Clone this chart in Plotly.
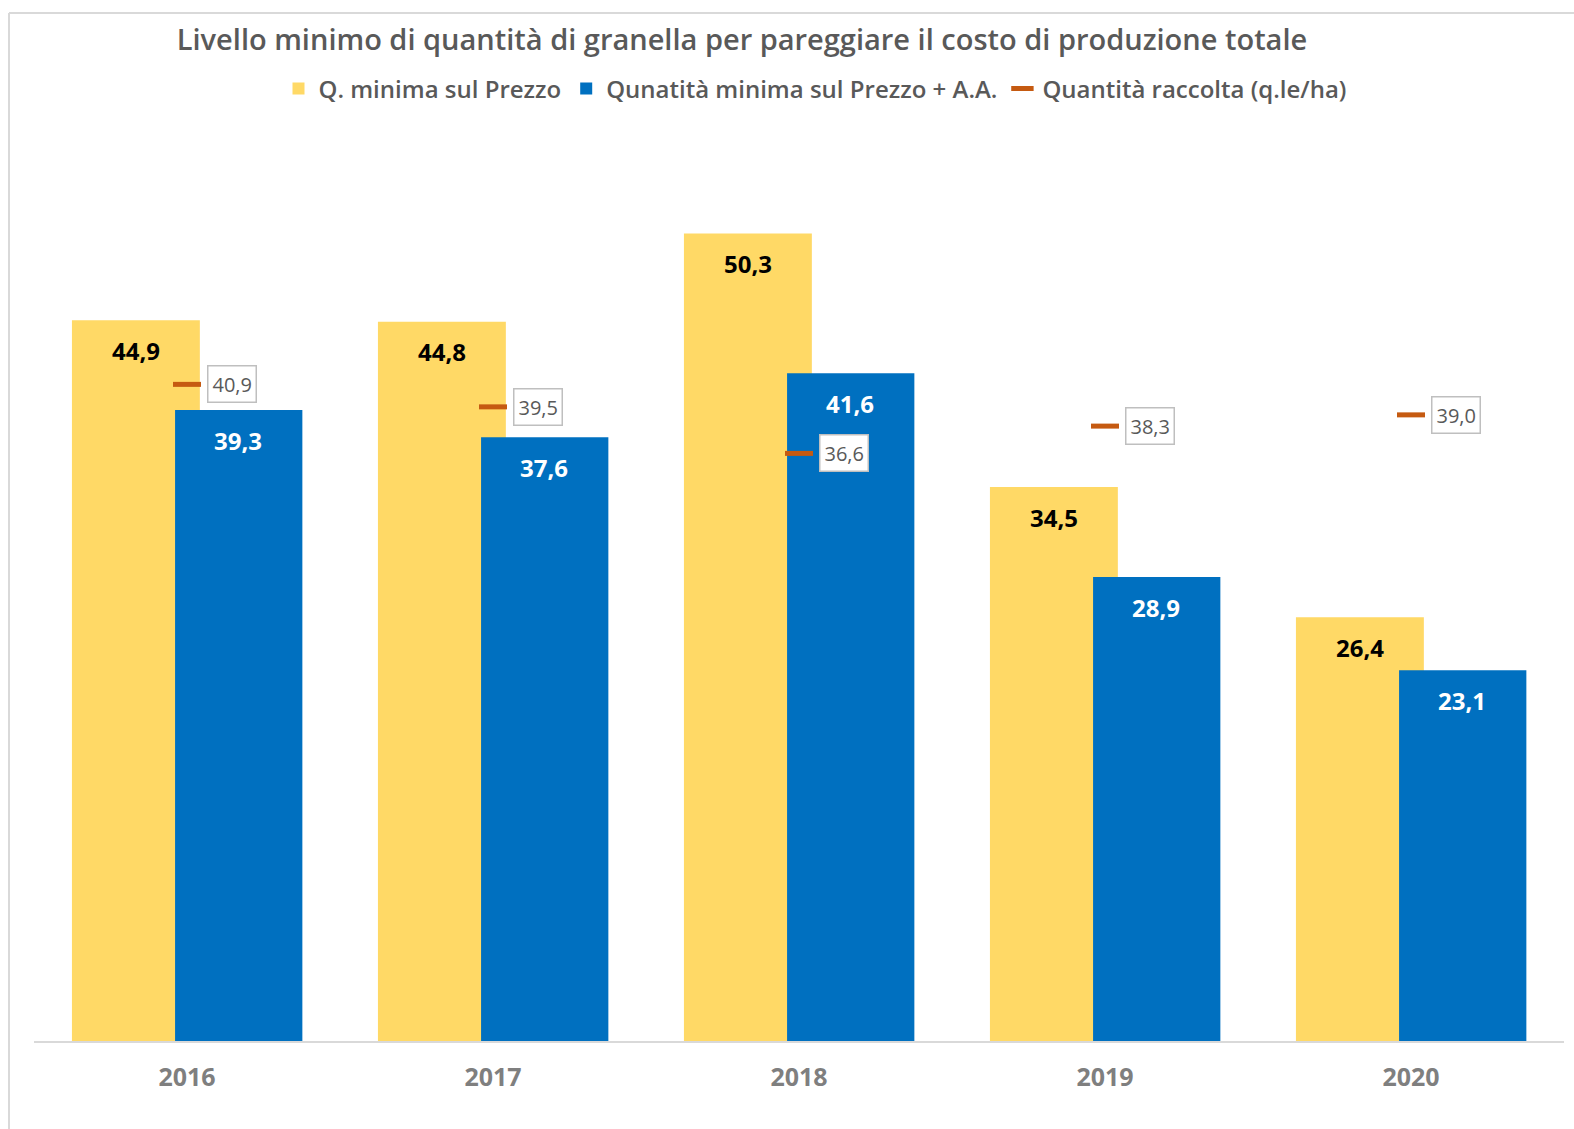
import plotly.graph_objects as go

years = ["2016", "2017", "2018", "2019", "2020"]
q_prezzo = [44.9, 44.8, 50.3, 34.5, 26.4]
q_prezzo_aa = [39.3, 37.6, 41.6, 28.9, 23.1]
q_raccolta = [40.9, 39.5, 36.6, 38.3, 39.0]

YELLOW = "#FFD966"
BLUE = "#0070C0"
ORANGE = "#C55A11"
GRAY = "#595959"
FONT = "Open Sans"

W, H = 1574, 1129
ML, MR, MT, MB = 34, 10, 158, 88
PW = W - ML - MR
PH = H - MT - MB

fig = go.Figure()
fig.add_trace(go.Bar(
    x=years, y=q_prezzo, name="Q. minima sul Prezzo",
    marker=dict(color=YELLOW, line=dict(width=0)),
    offset=-0.376, width=0.418, hoverinfo="x+y",
))
fig.add_trace(go.Bar(
    x=years, y=q_prezzo_aa, name="Qunatità minima sul Prezzo + A.A.",
    marker=dict(color=BLUE, line=dict(width=0)),
    offset=-0.039, width=0.416, hoverinfo="x+y",
))
fig.add_trace(go.Scatter(
    x=years, y=q_raccolta, name="Quantità raccolta (q.le/ha)", mode="markers",
    marker=dict(symbol="line-ew", size=20, line=dict(color=ORANGE, width=5), color=ORANGE),
))

def fmt(v):
    return f"{v:.1f}".replace(".", ",")

annotations = []
for i, y in enumerate(years):
    annotations.append(dict(
        x=i, y=q_prezzo[i], xref="x", yref="y", text=fmt(q_prezzo[i]),
        showarrow=False, xshift=-51, yshift=-30, yanchor="middle",
        font=dict(family=FONT, size=24, color="#000000", weight="bold"),
    ))
    annotations.append(dict(
        x=i, y=q_prezzo_aa[i], xref="x", yref="y", text=fmt(q_prezzo_aa[i]),
        showarrow=False, xshift=51, yshift=-30, yanchor="middle",
        font=dict(family=FONT, size=24, color="#FFFFFF", weight="bold"),
    ))
    annotations.append(dict(
        x=i, y=q_raccolta[i], xref="x", yref="y", text=fmt(q_raccolta[i]),
        showarrow=False, xanchor="left", xshift=20, yanchor="middle",
        bgcolor="#FFFFFF", bordercolor="#BFBFBF", borderwidth=1.5, borderpad=4,
        font=dict(family=FONT, size=20, color=GRAY),
    ))

# outer frame (left and top lines)
fx = (9 - ML) / PW
fy = (MT + PH - 13) / PH
shapes = [
    dict(type="line", xref="paper", yref="paper", x0=fx, x1=fx, y0=fy, y1=(MT + PH - H) / PH,
         line=dict(color="#D9D9D9", width=2)),
    dict(type="line", xref="paper", yref="paper", x0=fx, x1=(W - ML) / PW, y0=fy, y1=fy,
         line=dict(color="#D9D9D9", width=2)),
]

fig.update_layout(
    width=W, height=H,
    margin=dict(l=ML, r=MR, t=MT, b=MB),
    paper_bgcolor="white", plot_bgcolor="white",
    barmode="overlay",
    title=dict(
        text="Livello minimo di quantità di granella per pareggiare il costo di produzione totale",
        x=742 / W, xanchor="center", y=1 - 40 / H, yanchor="middle",
        font=dict(family=FONT, size=29, color=GRAY, weight=600),
    ),
    legend=dict(
        orientation="h", x=(815 - ML) / PW, xanchor="center",
        y=(MT + PH - 89) / PH, yanchor="middle",
        font=dict(family=FONT, size=24, color=GRAY, weight=600),
        itemwidth=30, tracegroupgap=0,
    ),
    xaxis=dict(
        type="category", range=[-0.5, 4.5],
        showline=True, linecolor="#D9D9D9", linewidth=2,
        ticks="outside", ticklen=13, tickcolor="rgba(0,0,0,0)",
        tickfont=dict(family=FONT, size=25, color="#7F7F7F", weight="bold"),
        showgrid=False, zeroline=False,
    ),
    yaxis=dict(range=[0, 55], visible=False, showgrid=False, zeroline=False),
    annotations=annotations,
    shapes=shapes,
    font=dict(family=FONT),
)

fig.write_html("out.html")
